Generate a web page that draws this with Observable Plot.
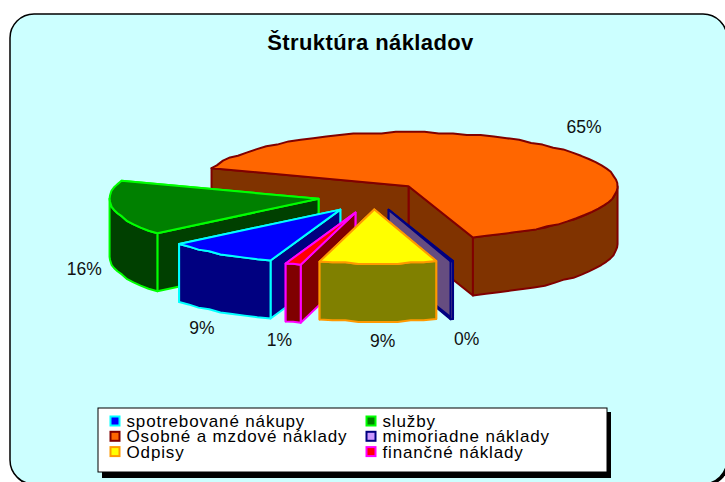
<!DOCTYPE html>
<html><head><meta charset="utf-8">
<script src="https://cdn.jsdelivr.net/npm/d3@7"></script>
<script src="https://cdn.jsdelivr.net/npm/@observablehq/plot@0.6"></script>
<style>html,body{margin:0;padding:0;background:#fff;overflow:hidden}svg{display:block}
.legendtext text{letter-spacing:0.85px}.titletext text{letter-spacing:0.4px}</style>
</head><body><div id="chart"></div>
<script>
const title = "Štruktúra nákladov";
const categories = ["spotrebované nákupy","služby","Osobné a mzdové náklady","mimoriadne náklady","Odpisy","finančné náklady"];
const shares = [8.6,16.4,64.6,0.2,9.0,1.2];
const tops = ["#0000ff","#008000","#ff6600","#cc99ff","#ffff00","#ff0000"];
const walls = ["#000080","#004000","#803300","#664d80","#808000","#800000"];
const edges = ["#00ffff","#00ff00","#800000","#000080","#ff9900","#ff00ff"];
const explode = [0.277,0.267,0.234,0.24,0.225,0.29];
const labelNudge = [[-2,-1],[0,-1],[5,-6],[6,-1],[4,-2],[-5,-3]];
const drawOrder = [2,3,1,0,5,4];

const W=725,H=482, cx=373,cy=195.5, a=209,b=54, be=60, depth=58, firstAngle=109.5;
const rad=d=>d*Math.PI/180;
const snap=v=>Math.round(v/1.6)*1.6;

let acc=firstAngle;
const slices=categories.map((name,i)=>{
  const t0=acc, t1=acc+shares[i]*3.6; acc=t1;
  const mid=(t0+t1)/2;
  const ax=cx+explode[i]*a*Math.cos(rad(mid)), ay=cy+explode[i]*be*Math.sin(rad(mid));
  const p=(t,d=0)=>({x:ax+a*Math.cos(rad(t)),y:ay+b*Math.sin(rad(t))+d});
  // the reference's arcs are coarse, slightly stepped polylines
  const arc=(s,e,d=0)=>{
    const n=Math.max(1,Math.ceil((e-s)/4));
    return d3.range(n+1).map(k=>{
      const q=p(s+(e-s)*k/n,d);
      return (k===0||k===n)?q:{x:q.x,y:ay+d+snap(q.y-ay-d)};
    });
  };
  const faces=[];
  const wall=t=>[{x:ax,y:ay},p(t),p(t,depth),{x:ax,y:ay+depth}];
  faces.push(wall(t1),wall(t0));
  for(const off of [0,360]){
    const s=Math.max(t0,off), e=Math.min(t1,off+180);
    if(e>s) faces.push([...arc(s,e),...arc(s,e,depth).reverse()]);
  }
  const top=[{x:ax,y:ay},...arc(t0,t1)];
  const sin=Math.sin(rad(mid));
  const label={x:ax+238*Math.cos(rad(mid))+labelNudge[i][0],y:ay+76*sin+(sin>0?depth:0)+labelNudge[i][1],text:Math.round(shares[i])+"%"};
  return {i,faces,top,label};
});

const poly=(pts,fill,stroke,sw=2)=>Plot.line(pts,{x:"x",y:"y",fill,stroke,strokeWidth:sw,curve:"linear-closed",strokeLinejoin:"round"});
const marks=[];
// chart area
marks.push(Plot.rect([0],{x1:()=>11,x2:()=>729,y1:()=>16,y2:()=>486,rx:24,fill:"#000"}));
marks.push(Plot.rect([0],{x1:()=>10,x2:()=>727,y1:()=>14,y2:()=>484,rx:24,fill:"#ccffff",stroke:"#000",strokeWidth:1.5}));
marks.push(Plot.text([title],{x:()=>370,y:()=>42,text:d=>d,className:"titletext",fontFamily:"Liberation Sans",fontWeight:"bold",fontSize:22,fill:"#000"}));
for(const k of drawOrder){
  const s=slices[k];
  for(const f of s.faces) marks.push(poly(f,walls[k],edges[k]));
  marks.push(poly(s.top,tops[k],edges[k]));
}
marks.push(Plot.text(slices.map(s=>s.label),{x:"x",y:"y",text:"text",fontFamily:"Liberation Sans",fontSize:17.5,fill:"#111"}));
// legend
marks.push(Plot.rect([0],{x1:()=>102,x2:()=>611,y1:()=>412,y2:()=>478,fill:"#000"}));
marks.push(Plot.rect([0],{x1:()=>98,x2:()=>607,y1:()=>408,y2:()=>472,fill:"#fff",stroke:"#000",strokeWidth:1}));
const legendRows=categories.map((name,i)=>({name,i,lx:115+256*(i%2),ly:421+15.3*Math.floor(i/2)}));
legendRows.forEach(r=>{
  marks.push(Plot.rect([r],{x1:d=>d.lx-4.5,x2:d=>d.lx+4.5,y1:d=>d.ly-4.5,y2:d=>d.ly+4.5,fill:tops[r.i],stroke:edges[r.i],strokeWidth:2}));
});
marks.push(Plot.text(legendRows,{x:d=>d.lx+11,y:"ly",text:"name",className:"legendtext",textAnchor:"start",fontFamily:"Liberation Sans",fontSize:17,fill:"#000"}));

const chart=Plot.plot({width:W,height:H,margin:0,
  x:{domain:[0,W],range:[0,W],axis:null},
  y:{domain:[0,H],range:[0,H],axis:null},
  style:{background:"transparent"},
  marks});
document.getElementById("chart").append(chart);
</script></body></html>
